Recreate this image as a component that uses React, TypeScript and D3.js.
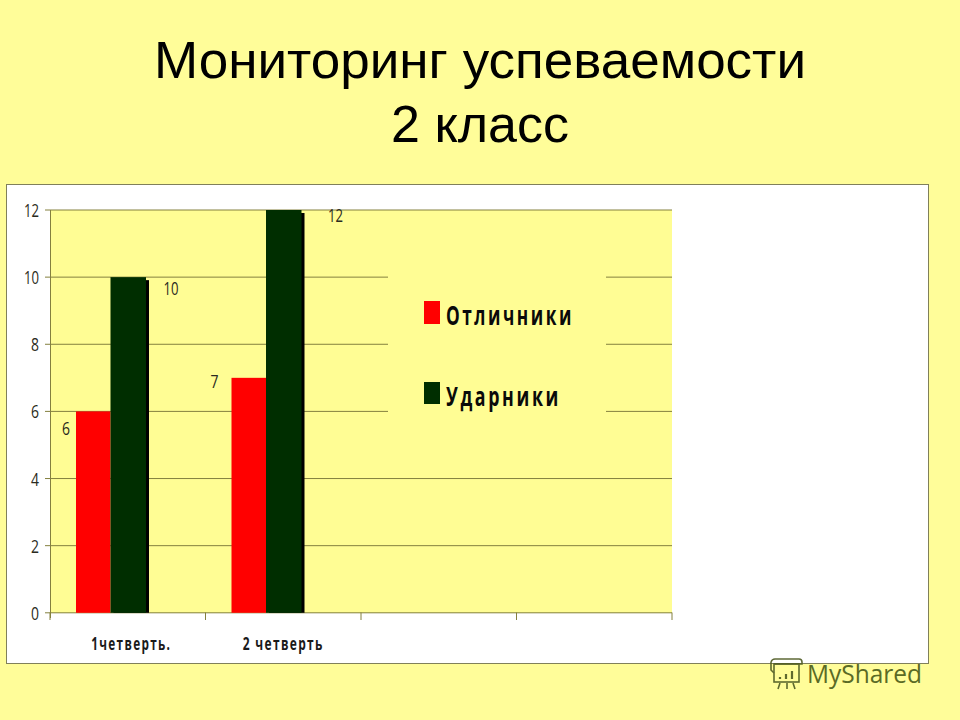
import React from "react";
import * as d3 from "d3";

const categories = ["1четверть.", "2 четверть", "", " "];
const seriesNames = ["Отличники", "Ударники"];
const excellent = [6, 7];
const good = [10, 12];
const yTicks = [0, 2, 4, 6, 8, 10, 12];
const titleLines = ["Мониторинг успеваемости", "2 класс"];

const BG = "#FFFD99";
const PLOT = "#FFFD94";
const RED = "#FF0000";
const GREEN = "#002E00";
const GRID = "#84803F";
const TEXT = "#2A2A20";
const NARROW = "'Open Sans', sans-serif";

export default function App() {
  const x = d3.scaleBand<string>().domain(categories).range([50, 672]);
  const y = d3.scaleLinear().domain([0, 12]).range([612.8, 210]);
  const barW = 34.5;
  const barOff = 26;
  const slotEdges = [...categories.map((c) => x(c) as number), 672];
  const catWidths = [80, 81];
  const catShift = [3.5, 0];
  return (
    <svg width={960} height={720} viewBox="0 0 960 720"
      style={{ position: "absolute", left: 0, top: 0, display: "block" }}>
      <rect x={0} y={0} width={960} height={720} fill={BG} />
      <g fontFamily="'Liberation Sans', Arial, sans-serif" fontSize={52} fill="#000" textAnchor="middle">
        <text x={480} y={78} textLength={652} lengthAdjust="spacingAndGlyphs">{titleLines[0]}</text>
        <text x={480} y={142}>{titleLines[1]}</text>
      </g>
      <rect x={6.5} y={184.5} width={922} height={479} fill="#FFFFFF" stroke="#80805A" strokeWidth={1} />
      <rect x={50} y={210} width={622} height={403} fill={PLOT} />
      {yTicks.map((t) => (
        <g key={t}>
          <line x1={45} x2={672} y1={y(t)} y2={y(t)} stroke={GRID} strokeWidth={1} />
          <text x={39} y={y(t) + 7} fontFamily={NARROW} fontSize={19} fill={TEXT} textAnchor="end"
            textLength={String(t).length === 2 ? 15 : 8} lengthAdjust="spacingAndGlyphs">{t}</text>
        </g>
      ))}
      <line x1={50.5} x2={50.5} y1={210} y2={618} stroke={GRID} />
      {slotEdges.map((e, i) => (
        <line key={i} x1={e} x2={e} y1={612.5} y2={620} stroke={GRID} />
      ))}
      <rect x={388} y={262} width={218} height={168} fill={PLOT} />
      {excellent.map((v, i) => {
        const x0 = x(categories[i]) as number;
        return (
          <rect key={i} x={x0 + barOff} y={y(v)} width={barW} height={y(0) - y(v)} fill={RED} />
        );
      })}
      {good.map((v, i) => {
        const x0 = (x(categories[i]) as number) + barOff + barW;
        return (
          <g key={i}>
            <rect x={x0 + 3} y={y(v) + 3} width={35.5} height={y(0) - y(v) - 3} fill="#000" />
            <rect x={x0} y={y(v)} width={35.5} height={y(0) - y(v)} fill={GREEN} />
          </g>
        );
      })}
      {excellent.map((v, i) => (
        <text key={i} x={(x(categories[i]) as number) + barOff - (i === 0 ? 10 : 17)} y={y(v) + (i === 0 ? 24 : 10)}
          fontFamily={NARROW} fontSize={19} fill={TEXT} textAnchor="middle"
          textLength={8} lengthAdjust="spacingAndGlyphs">{v}</text>
      ))}
      {good.map((v, i) => (
        <text key={i} x={(x(categories[i]) as number) + barOff + barW + 35.5 + (i === 0 ? 25 : 34)} y={y(v) + 18 - (i === 0 ? 0 : 6)}
          fontFamily={NARROW} fontSize={19} fill={TEXT} textAnchor="middle"
          textLength={15} lengthAdjust="spacingAndGlyphs">{v}</text>
      ))}
      {categories.slice(0, 2).map((c, i) => (
        <text key={c} x={(x(c) as number) + x.bandwidth() / 2 + catShift[i]} y={650}
          fontFamily={NARROW} fontSize={18} fontWeight={700} fill="#1a1a1a" textAnchor="middle"
          letterSpacing={2} textLength={catWidths[i]} lengthAdjust="spacingAndGlyphs">{c}</text>
      ))}
      {seriesNames.map((s, i) => (
        <g key={s}>
          <rect x={424} y={301 + i * 81} width={16} height={i === 0 ? 23 : 22} fill={i === 0 ? RED : GREEN} />
          <text x={446} y={325 + i * 81} fontFamily={NARROW} fontSize={27} fontWeight={700} fill="#0a0a0a"
            letterSpacing={4} textLength={i === 0 ? 128 : 115} lengthAdjust="spacingAndGlyphs">{s}</text>
        </g>
      ))}
      <g fill="none" stroke="#4E5A22" strokeWidth={1.6} opacity={0.9}>
        <rect x={774} y={664} width={25} height={18} />
        <path d="M771 662 q1 -3 4 -3 h24 q3 0 3 3 v2 h-28 M771 662 v8 l3 3 M780 683 l-2 6 M787 683 v6 M793 683 l2 6" />
        <path d="M780 677 v2 M786 674 v5 M792 671 v8" strokeWidth={2.2} />
      </g>
      <text x={807} y={683} fontFamily="'Open Sans', sans-serif" fontSize={25} fill="#5A6A25"
        textLength={115} lengthAdjust="spacingAndGlyphs">MyShared</text>
    </svg>
  );
}
